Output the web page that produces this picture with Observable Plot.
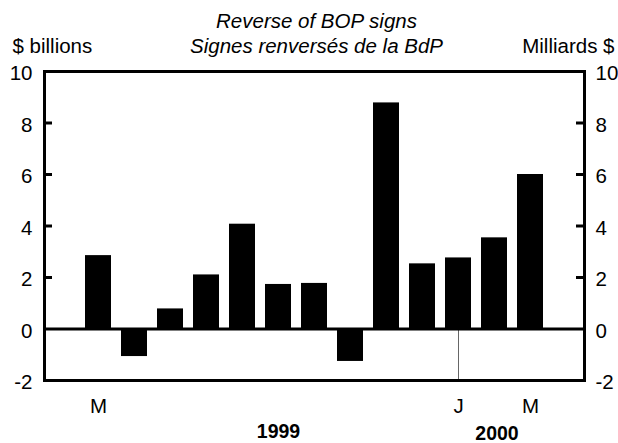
<!DOCTYPE html>
<html><head><meta charset="utf-8">
<script src="https://cdn.jsdelivr.net/npm/d3@7"></script>
<script src="https://cdn.jsdelivr.net/npm/@observablehq/plot@0.6"></script>
<style>body{margin:0;background:#fff}</style>
</head><body><div id="chart"></div>
<script>
const months = ["Feb 1999","Mar 1999","Apr 1999","May 1999","Jun 1999","Jul 1999","Aug 1999","Sep 1999","Oct 1999","Nov 1999","Dec 1999","Jan 2000","Feb 2000","Mar 2000","Apr 2000"];
const values = [null, 2.85, -1.07, 0.78, 2.1, 4.07, 1.73, 1.77, -1.26, 8.78, 2.53, 2.76, 3.54, 6.0, null];
const monthTickLabels = {"Mar 1999": "M", "Jan 2000": "J", "Mar 2000": "M"};
const yTicks = [-2, 0, 2, 4, 6, 8, 10];
const innerTicks = [2, 4, 6, 8];
const yearLabels = ["1999", "2000"];
const yearMonths = ["Aug 1999", "Feb 2000"];
const titleLines = ["Reverse of BOP signs", "Signes renversés de la BdP"];
const leftUnit = "$ billions";
const rightUnit = "Milliards $";

const bars = months.map((m, i) => ({month: m, value: values[i]})).filter(d => d.value != null);
const years = yearLabels.map((label, i) => ({label, month: yearMonths[i]}));
const font = "Liberation Sans, Arial, sans-serif";
const fs = 20.5;

const chart = Plot.plot({
  width: 618,
  height: 443,
  marginTop: 71,
  marginBottom: 63,
  marginLeft: 44,
  marginRight: 34,
  style: {fontFamily: font, fontSize: fs + "px", background: "#fff", color: "#000"},
  x: {type: "band", domain: months, paddingInner: 0.28, paddingOuter: 0.14},
  y: {domain: [-2, 10]},
  marks: [
    Plot.barY(bars, {x: "month", y: "value", fill: "#000"}),
    Plot.ruleX(["Jan 2000"], {x: d => d, y1: -2, y2: 0, stroke: "#666", strokeWidth: 1}),
    Plot.ruleY([0], {strokeWidth: 3}),
    Plot.tickY(innerTicks, {y: d => d, insetRight: 532, strokeWidth: 3}),
    Plot.tickY(innerTicks, {y: d => d, insetLeft: 532, strokeWidth: 3}),
    Plot.frame({strokeWidth: 3}),
    Plot.axisY(yTicks, {anchor: "left", tickSize: 0, tickPadding: 12, fontSize: fs, dy: 2, label: null, tickFormat: d => String(d)}),
    Plot.axisY(yTicks, {anchor: "right", tickSize: 0, tickPadding: 11, fontSize: fs, dy: 2, label: null, tickFormat: d => String(d)}),
    Plot.axisX(Object.keys(monthTickLabels), {anchor: "bottom", tickSize: 0, tickPadding: 18, fontSize: fs, tickFormat: d => monthTickLabels[d], label: null}),
    Plot.text([years[0]], {x: "month", text: "label", frameAnchor: "bottom", lineAnchor: "middle", dy: 51.5, fontSize: 19.5, fontWeight: "bold"}),
    Plot.text([years[1]], {x: "month", text: "label", frameAnchor: "bottom", lineAnchor: "middle", dx: 2.5, dy: 53.5, fontSize: 19.5, fontWeight: "bold"}),
    Plot.text([titleLines[0]], {text: d => d, frameAnchor: "top", lineAnchor: "middle", dx: 2, dy: -50, fontSize: fs, fontStyle: "italic"}),
    Plot.text([titleLines[1]], {text: d => d, frameAnchor: "top", lineAnchor: "middle", dx: 2, dy: -25, fontSize: fs, fontStyle: "italic"}),
    Plot.text([leftUnit], {text: d => d, frameAnchor: "top-left", lineAnchor: "middle", textAnchor: "start", dx: -32, dy: -25, fontSize: fs}),
    Plot.text([rightUnit], {text: d => d, frameAnchor: "top-right", lineAnchor: "middle", textAnchor: "end", dx: 30, dy: -25, fontSize: fs})
  ]
});
document.getElementById("chart").appendChild(chart);
</script>
</body></html>
